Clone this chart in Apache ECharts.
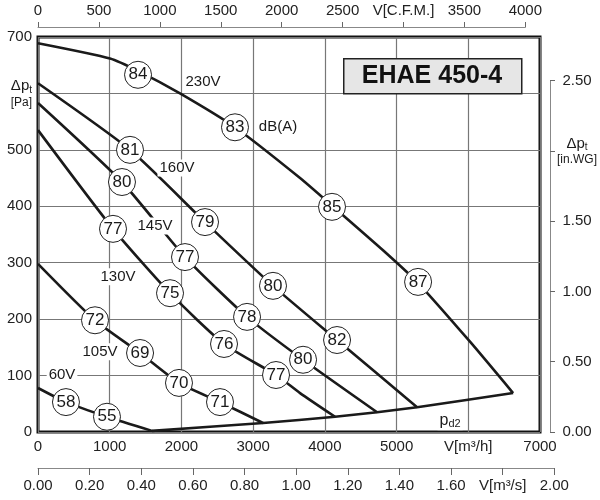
<!DOCTYPE html>
<html>
<head>
<meta charset="utf-8">
<script src="https://cdn.jsdelivr.net/npm/echarts@6/dist/echarts.min.js"></script>
<style>
  html, body { margin: 0; padding: 0; background: #fff; }
  #chart { width: 600px; height: 500px; }
</style>
</head>
<body>
<div id="chart"></div>
<script>
// fan curves, flow in m3/h, total pressure in Pa
const curve230 = [[0, 689], [1004, 662], [1395, 640], [1980, 600], [2747, 540], [3654, 450], [4100, 401], [4811, 322], [5300, 264], [6024, 160], [6625, 69]];
const curve160 = [[0, 618], [1283, 500], [2329, 372], [3277, 259], [4170, 163], [5286, 44]];
const curve145 = [[0, 583], [1171, 443], [2050, 310], [2915, 204], [3696, 128], [4728, 35]];
const curve130 = [[0, 535], [1046, 360], [1841, 246], [2594, 156], [3319, 101], [3654, 69], [4142, 27]];
const curve105 = [[0, 298], [795, 198], [1423, 140], [1966, 87], [2538, 53], [3138, 16]];
const curve60 = [[0, 78], [390, 53], [962, 27], [1590, 2]];
const curvePd2 = [[1590, 2], [3138, 16], [4142, 27], [4728, 35], [5286, 44], [6625, 69]];

// sound levels dB(A) sitting on the curves
const db230 = [[1395, 633, 84], [2747, 540, 83], [4100, 399, 85], [5300, 266, 87]];
const db160 = [[1283, 500, 81], [2329, 372, 79], [3277, 259, 80], [4170, 163, 82]];
const db145 = [[1171, 443, 80], [2050, 310, 77], [2915, 204, 78], [3696, 128, 80]];
const db130 = [[1046, 360, 77], [1841, 246, 75], [2594, 156, 76], [3319, 101, 77]];
const db105 = [[795, 198, 72], [1423, 140, 69], [1966, 87, 70], [2538, 53, 71]];
const db60 = [[390, 53, 58], [962, 27, 55]];

const curveNotes = [[2301, 620, '230V'], [3347, 540, 'dB(A)'], [1938, 468, '160V'], [1632, 365, '145V'],
  [1116, 275, '130V'], [865, 142, '105V'], [335, 101, '60V'], [5746, 21, 'pd2']];

const flowLabels = ['0', '1000', '2000', '3000', '4000', '5000', 'V[m³/h]', '7000'];
const cfmLabels = ['0', '500', '1000', '1500', '2000', '2500', 'V[C.F.M.]', '3500', '4000'];
const m3sLabels = ['0.00', '0.20', '0.40', '0.60', '0.80', '1.00', '1.20', '1.40', '1.60', 'V[m³/s]', '2.00'];
const paLabels = ['0', '100', '200', '300', '400', '500', '{a|Δp}{s|t}\n{b|[Pa]}', '700'];
const inwgLabels = ['0.00', '0.50', '1.00', '1.50', '{a|Δp}{s|t}\n{b|[in.WG]}', '2.50'];

const FONT = 'Liberation Sans, Arial, sans-serif';
const INK = '#1a1a1a';
const plot = { left: 38, top: 37, width: 502, height: 395 };
const M3H_PER_CFM = 1.699;
const PA_PER_INWG = 249.09;

const subRich = {
  a: { fontSize: 15, lineHeight: 18, fontFamily: FONT, color: INK, verticalAlign: 'middle' },
  s: { fontSize: 10, lineHeight: 8, fontFamily: FONT, color: INK, verticalAlign: 'bottom' },
  b: { fontSize: 12, lineHeight: 15, fontFamily: FONT, color: INK, backgroundColor: '#fff' }
};

const plotBottom = plot.top + plot.height;
const cfmWidth = plot.width * 4000 * M3H_PER_CFM / 7000;
const m3sWidth = plot.width * 7200 / 7000;
const inwgHeight = plot.height * 2.5 * PA_PER_INWG / 700;

const axisText = { fontSize: 15, fontFamily: FONT, color: '#222' };
const hidden = { show: false, type: 'value', min: 0, max: 1 };

const lineSeries = (data) => ({
  type: 'line', data: data, showSymbol: false, smooth: 0.2, z: 3,
  lineStyle: { color: INK, width: 2.6 }, silent: true
});

const chart = echarts.init(document.getElementById('chart'));
chart.setOption({
  animation: false,
  backgroundColor: '#fff',
  grid: [
    { left: plot.left, top: plot.top, width: plot.width, height: plot.height,
      show: true, borderColor: '#111', borderWidth: 3 },
    { left: plot.left, top: 26, width: cfmWidth, height: 1 },
    { left: plot.left, top: 467, width: m3sWidth, height: 1 },
    { left: 550, top: plotBottom - inwgHeight, width: 1, height: inwgHeight }
  ],
  xAxis: [
    { gridIndex: 0, type: 'value', min: 0, max: 7000, interval: 1000,
      axisLine: { show: false }, axisTick: { show: false },
      splitLine: { lineStyle: { color: '#777', width: 1.2 } },
      axisLabel: Object.assign({ margin: 7, formatter: v => flowLabels[Math.round(v / 1000)] }, axisText) },
    { gridIndex: 1, type: 'value', position: 'top', min: 0, max: 4000, interval: 500,
      axisLine: { lineStyle: { color: '#888', width: 1 } },
      axisTick: { length: 5, lineStyle: { color: '#666' } },
      splitLine: { show: false },
      axisLabel: Object.assign({ margin: 8, formatter: v => cfmLabels[Math.round(v / 500)] }, axisText) },
    { gridIndex: 2, type: 'value', position: 'bottom', min: 0, max: 2, interval: 0.2,
      axisLine: { lineStyle: { color: '#888', width: 1 } },
      axisTick: { length: 7, lineStyle: { color: '#666' } },
      splitLine: { show: false },
      axisLabel: Object.assign({ margin: 10, formatter: v => m3sLabels[Math.round(v / 0.2)] }, axisText) },
    Object.assign({ gridIndex: 3 }, hidden)
  ],
  yAxis: [
    { gridIndex: 0, type: 'value', min: 0, max: 700, interval: 100,
      axisLine: { show: false }, axisTick: { show: false },
      splitLine: { lineStyle: { color: '#777', width: 1.2 } },
      axisLabel: Object.assign({ margin: 6, rich: subRich, formatter: v => paLabels[Math.round(v / 100)] }, axisText) },
    Object.assign({ gridIndex: 1 }, hidden),
    Object.assign({ gridIndex: 2 }, hidden),
    { gridIndex: 3, type: 'value', position: 'right', min: 0, max: 2.5, interval: 0.5,
      axisLine: { lineStyle: { color: '#888', width: 1 } },
      axisTick: { length: 5, lineStyle: { color: '#666' } },
      splitLine: { show: false },
      axisLabel: Object.assign({ margin: 26, align: 'center', rich: subRich,
        formatter: v => inwgLabels[Math.round(v / 0.5)] }, axisText) }
  ],
  graphic: [
    { type: 'rect', left: 343, top: 58, z: 10,
      shape: { width: 178, height: 35 },
      style: { fill: '#e6e6e6', stroke: '#222', lineWidth: 1.5 } },
    { type: 'text', x: 432, y: 76, z: 11,
      style: { text: 'EHAE 450-4', fontSize: 25, fontWeight: 'bold', fontFamily: FONT,
        fill: '#111', align: 'center', verticalAlign: 'middle' } }
  ],
  series: [
    lineSeries(curve230), lineSeries(curve160), lineSeries(curve145),
    lineSeries(curve130), lineSeries(curve105), lineSeries(curve60),
    lineSeries(curvePd2),
    {
      type: 'scatter', z: 5, silent: true,
      data: [].concat(db230, db160, db145, db130, db105, db60),
      symbol: 'circle', symbolSize: 27,
      itemStyle: { color: '#fff', borderColor: '#222', borderWidth: 1, opacity: 1 },
      label: { show: true, position: 'inside', formatter: p => p.value[2],
        fontSize: 17, fontFamily: FONT, color: INK }
    },
    {
      type: 'scatter', z: 6, silent: true,
      data: curveNotes, symbolSize: 0,
      itemStyle: { opacity: 1 },
      label: {
        show: true, position: 'inside', backgroundColor: '#fff', padding: [1, 2],
        fontSize: 15, fontFamily: FONT, color: INK, opacity: 1,
        formatter: p => p.value[2] === 'pd2' ? '{p|p}{s|d2}' : p.value[2],
        rich: {
          p: { fontSize: 16, lineHeight: 18, fontFamily: FONT, color: INK, verticalAlign: 'middle' },
          s: { fontSize: 11, lineHeight: 8, fontFamily: FONT, color: INK, verticalAlign: 'bottom' }
        }
      }
    }
  ]
});
</script>
</body>
</html>
